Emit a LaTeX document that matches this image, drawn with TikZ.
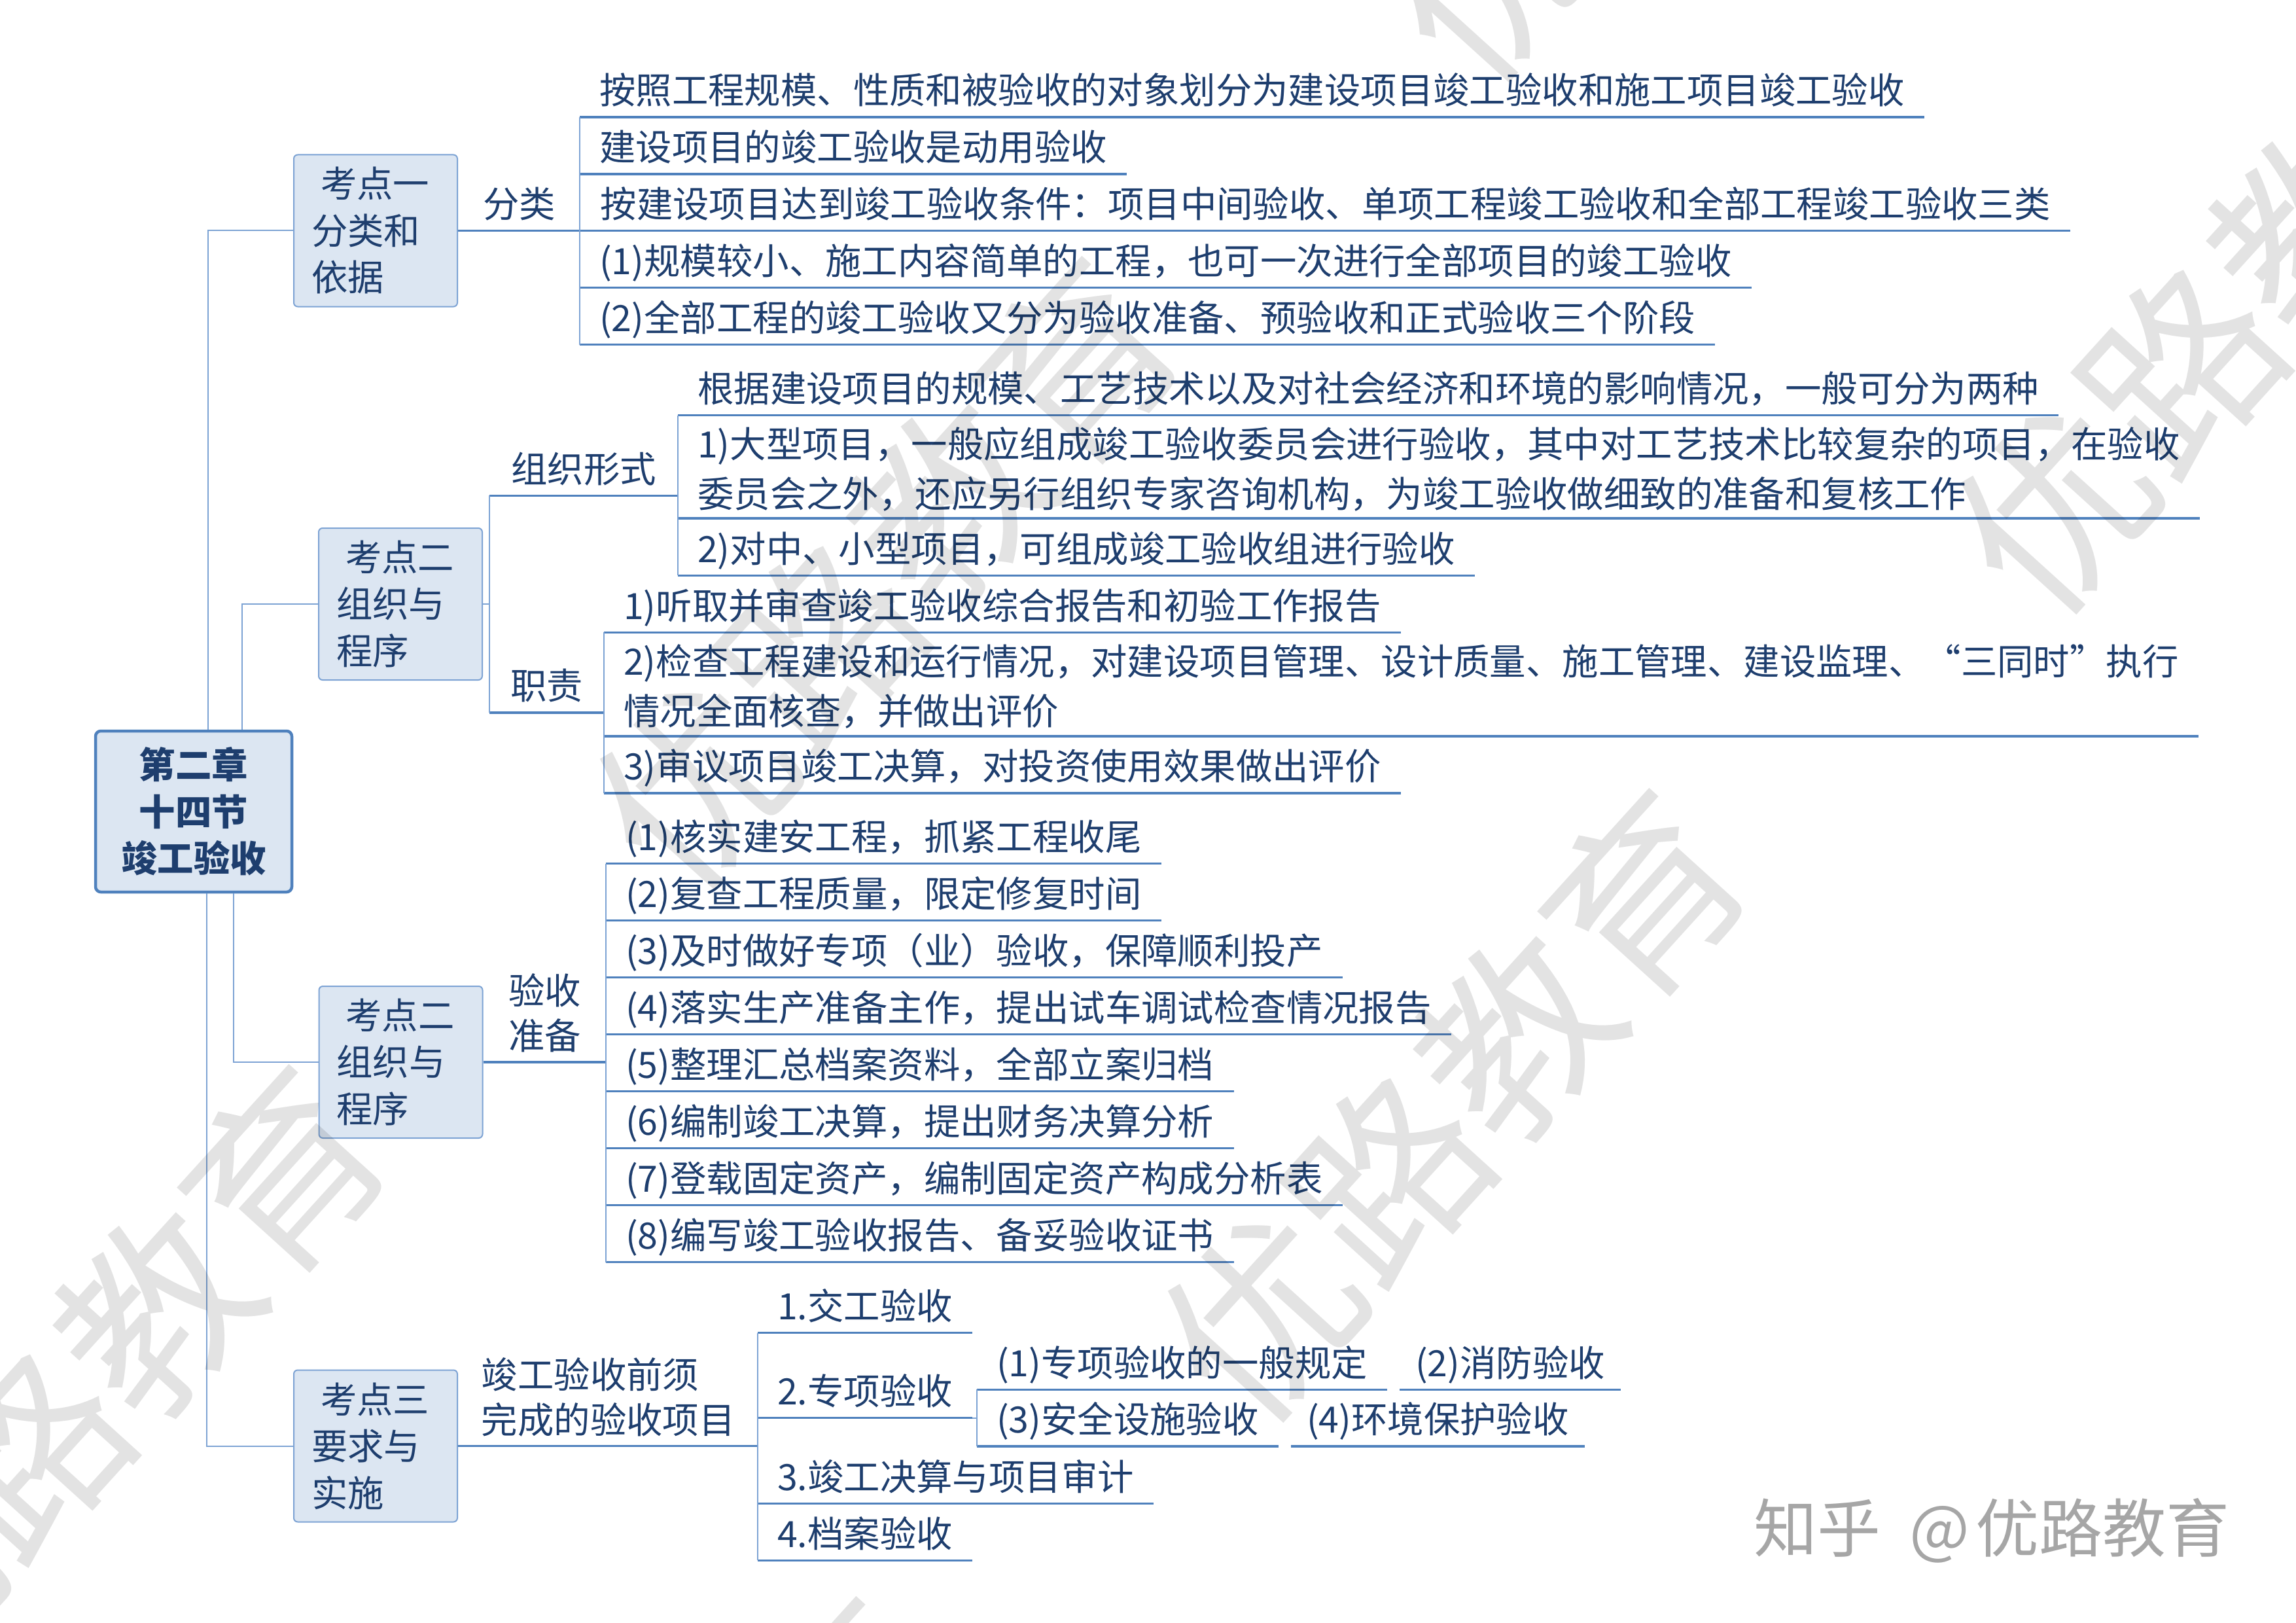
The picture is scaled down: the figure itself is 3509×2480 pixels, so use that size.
\documentclass[tikz,border=0pt]{standalone}
\usepackage{fontspec}
\setmainfont{Noto Sans CJK SC}
\definecolor{txt}{RGB}{30,62,110}
\definecolor{ulc}{RGB}{79,129,189}
\definecolor{cnc}{RGB}{125,163,212}
\definecolor{boxfill}{RGB}{220,230,242}
\definecolor{boxline}{RGB}{125,163,212}
\definecolor{rootline}{RGB}{79,129,189}
\definecolor{wmgrey}{RGB}{166,166,166}
\newcommand{\fsleaf}{\fontsize{55.4pt}{76pt}\selectfont}
\newcommand{\fsbox}{\fontsize{55.4pt}{71.5pt}\selectfont}
\newcommand{\fslab}{\fontsize{55.4pt}{69pt}\selectfont}
\tikzset{
 ul/.style={append after command={(\tikzlastnode.south west) edge[draw=ulc, line width=3.5pt] (\tikzlastnode.south east)}},
 lf/.style={font=\fsleaf, text=txt, anchor=south west, inner xsep=30pt, inner ysep=13.35pt, text height=48.75pt, text depth=6.65pt, align=left, ul},
 two/.style={text height=124.75pt, text depth=3.65pt},
 lbl/.style={lf, inner xsep=0pt, minimum width=#1},
 lbltwo/.style={font=\fslab, text height=117.75pt, text depth=5.65pt},
 kbox/.style={font=\fsbox, text=txt, draw=boxline, line width=2pt, fill=boxfill, rounded corners=6pt, minimum width=250pt, minimum height=232pt, text width=196pt, inner xsep=27pt, align=left},
 rootbox/.style={font=\fsbox\bfseries, text=txt, draw=rootline, line width=4.5pt, fill=boxfill, rounded corners=8pt, minimum width=300pt, minimum height=246pt, align=center},
 cn/.style={draw=cnc, line width=2pt},
 wm/.style={font=\fontsize{290pt}{290pt}\selectfont, text=black, text opacity=0.11, rotate=47.8, inner sep=0pt},
}
\begin{document}
\begin{tikzpicture}[x=1pt,y=-1pt]
\useasboundingbox (0,0) rectangle (3509,2480);
\clip (0,0) rectangle (3509,2480);
\fill[white] (0,0) rectangle (3509,2480);

% root and topic boxes
\node[rootbox] (root) at (296,1240) {第二章\\十四节\\竣工验收};
\node[kbox] (k1) at (574,352.5) {\hspace*{14pt}考点一\\分类和\\依据};
\node[kbox] (k2) at (612,923) {\hspace*{14pt}考点二\\组织与\\程序};
\node[kbox] (k3) at (612.5,1623) {\hspace*{14pt}考点二\\组织与\\程序};
\node[kbox] (k4) at (574,2209.5) {\hspace*{14pt}考点三\\要求与\\实施};

\draw[cn] ([xshift=22pt]root.north) |- (k1.west);
\draw[cn] ([xshift=74pt]root.north) |- (k2.west);
\draw[cn] ([xshift=61pt]root.south) |- (k3.west);
\draw[cn] ([xshift=20pt]root.south) |- (k4.west);

% group 1
\node[lbl=187pt] (fl) at (k1.east) {分类};
\node[lf] (A1) at (886,179) {按照工程规模、性质和被验收的对象划分为建设项目竣工验收和施工项目竣工验收};
\node[lf] (A2) at (886,265.9) {建设项目的竣工验收是动用验收};
\node[lf] (A3) at (fl.south east) {按建设项目达到竣工验收条件：项目中间验收、单项工程竣工验收和全部工程竣工验收三类};
\node[lf] (A4) at (886,439.7) {(1)规模较小、施工内容简单的工程，也可一次进行全部项目的竣工验收};
\node[lf] (A5) at (886,526.6) {(2)全部工程的竣工验收又分为验收准备、预验收和正式验收三个阶段};
\draw[cn] (A1.south west) -- (A5.south west);

% group 2
\node[lbl=288.2pt] (zz) at (747.8,757.4) {组织形式};
\node[lbl=175.2pt] (zh) at (747.8,1089) {职责};
\draw[cn] (k2.east) -- (k2.east -| zz.south west);
\draw[cn] (zz.south west) -- (zh.south west);
\node[lf] (B1) at (1036,634.6) {根据建设项目的规模、工艺技术以及对社会经济和环境的影响情况，一般可分为两种};
\node[lf,two] (B2) at (1036,792.2) {1)大型项目，一般应组成竣工验收委员会进行验收，其中对工艺技术比较复杂的项目，在验收\\委员会之外，还应另行组织专家咨询机构，为竣工验收做细致的准备和复核工作};
\node[lf] (B3) at (1036,879.3) {2)对中、小型项目，可组成竣工验收组进行验收};
\draw[cn] (B1.south west) -- (B3.south west);
\node[lf] (C1) at (923,966.3) {1)听取并审查竣工验收综合报告和初验工作报告};
\node[lf,two] (C2) at (923,1124.8) {2)检查工程建设和运行情况，对建设项目管理、设计质量、施工管理、建设监理、“三同时”执行\\情况全面核查，并做出评价};
\node[lf] (C3) at (923,1211.9) {3)审议项目竣工决算，对投资使用效果做出评价};
\draw[cn] (C1.south west) -- (C3.south west);

% group 3
\node[lbl=188.4pt,lbltwo] (ys) at (k3.east) {验收\\准备};
\node[lf] (D1) at (925.9,1319.6) {(1)核实建安工程，抓紧工程收尾};
\node[lf] (D2) at (925.9,1406.6) {(2)复查工程质量，限定修复时间};
\node[lf] (D3) at (925.9,1493.6) {(3)及时做好专项（业）验收，保障顺利投产};
\node[lf] (D4) at (925.9,1580.6) {(4)落实生产准备主作，提出试车调试检查情况报告};
\node[lf] (D5) at (925.9,1667.6) {(5)整理汇总档案资料，全部立案归档};
\node[lf] (D6) at (925.9,1754.6) {(6)编制竣工决算，提出财务决算分析};
\node[lf] (D7) at (925.9,1841.6) {(7)登载固定资产，编制固定资产构成分析表};
\node[lf] (D8) at (925.9,1928.6) {(8)编写竣工验收报告、备妥验收证书};
\draw[cn] (D1.south west) -- (D8.south west);

% group 4
\node[lbl=459pt,lbltwo] (jg) at (k4.east) {竣工验收前须\\完成的验收项目};
\node[lf] (E1) at (1158,2036.7) {1.交工验收};
\node[lf] (E2) at (1158,2166.7) {2.专项验收};
\node[lf] (E3) at (1158,2297.3) {3.竣工决算与项目审计};
\node[lf] (E4) at (1158,2384.3) {4.档案验收};
\draw[cn] (E1.south west) -- (E4.south west);
\node[lf] (F1) at (1492.8,2123.3) {(1)专项验收的一般规定};
\node[lf] (F3) at (1492.8,2210) {(3)安全设施验收};
\node[lf,inner xsep=24pt] (F2) at ([xshift=19pt]F1.south east) {(2)消防验收};
\node[lf,inner xsep=24pt] (F4) at ([xshift=19pt]F3.south east) {(4)环境保护验收};
\draw[cn] (E2.south east) -- (E2.south east -| F1.south west);
\draw[cn] (F1.south west) -- (F3.south west);

% watermarks
\node[wm] (w1) at (140.5,2112.5) {优路教育};
\node[wm] (w2) at (2219.5,1690.5) {优路教育};
\node[wm] (w3) at (1352.5,877.5) {优路教育};
\node[wm] (w4) at (3431.5,455.5) {优路教育};
\node[wm] (w5) at (2564.5,-357.5) {优路教育};
\node[wm] (w6) at (1007.5,2925.5) {优路教育};
\node[font=\fontsize{97pt}{97pt}\selectfont, text=wmgrey, inner sep=0pt] (zhihu) at (3044,2339) {知乎\hspace{0.45em}@\hspace{0.1em}优路教育};
\end{tikzpicture}
\end{document}
